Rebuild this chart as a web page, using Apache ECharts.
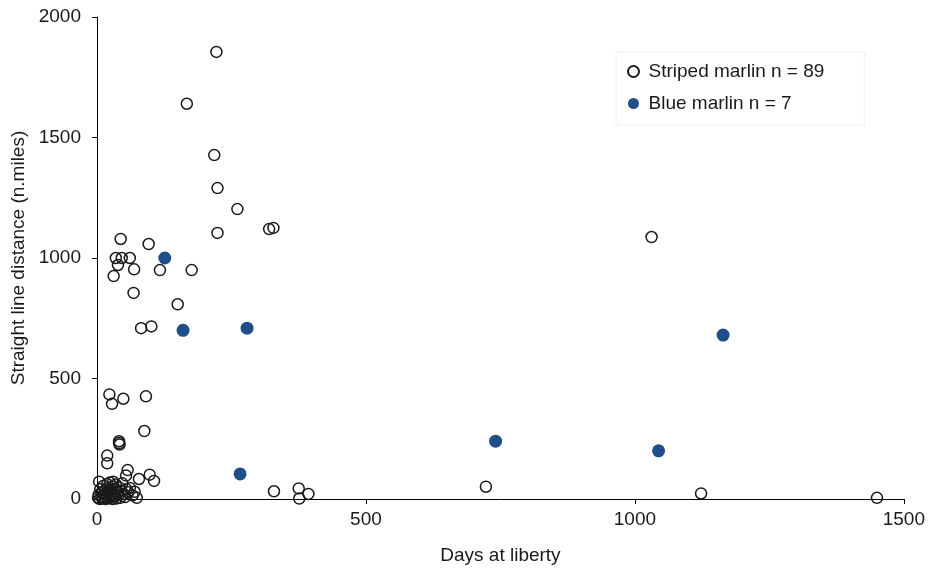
<!DOCTYPE html>
<html>
<head>
<meta charset="utf-8">
<script src="https://cdn.jsdelivr.net/npm/echarts@6/dist/echarts.min.js"></script>
<style>
  html, body { margin: 0; padding: 0; background: #ffffff; }
  #chart { width: 928px; height: 572px; }
</style>
</head>
<body>
<div id="chart"></div>
<script>
// Striped marlin recaptures: days at liberty and straight line distance (n.miles)
const stripedDays = [
  222, 167, 218, 224, 261, 224, 320, 328, 44, 96,
  35, 46, 61, 39, 69, 31, 117, 176, 68, 150,
  82, 101, 23, 28, 49, 91, 88, 41, 41, 42,
  19, 19, 57, 54, 78, 98, 106, 4, 329, 375,
  393, 376, 723, 1031, 1123, 1450,
  2, 3, 5, 6, 8, 9, 10, 12, 13, 14,
  15, 16, 18, 19, 20, 21, 22, 24, 25, 26,
  27, 28, 29, 30, 31, 33, 34, 35, 36, 38,
  40, 41, 43, 45, 47, 50, 52, 55, 58, 61,
  66, 70, 74
];
const stripedDistance = [
  1855, 1640, 1427, 1290, 1203, 1104, 1120, 1125, 1079, 1058,
  1000, 1000, 1000, 971, 953, 925, 950, 950, 855, 808,
  709, 716, 434, 395, 416, 426, 282, 240, 232, 226,
  180, 148, 120, 97, 83, 101, 75, 72, 32, 44,
  21, 2, 51, 1087, 23, 5,
  5, 18, 0, 40, 10, 28, 2, 55, 20, 5,
  35, 0, 12, 62, 45, 25, 3, 68, 15, 38,
  8, 52, 0, 72, 22, 10, 42, 60, 2, 28,
  16, 48, 5, 34, 65, 20, 8, 40, 28, 46,
  15, 30, 5
];

// Blue marlin recaptures
const blueDays = [126, 160, 279, 266, 741, 1044, 1164];
const blueDistance = [1000, 700, 709, 104, 240, 200, 680];

const seriesNames = ['Striped marlin n = 89', 'Blue marlin n = 7'];
const xTicks = { min: 0, max: 1500, interval: 500 };
const yTicks = { min: 0, max: 2000, interval: 500 };

const pairs = (xs, ys) => xs.map((x, i) => [x, ys[i]]);

const FONT = '"Liberation Sans", Arial, sans-serif';
const TEXT = '#1a1a1a';
const plain = (v) => String(v);

const chart = echarts.init(document.getElementById('chart'), null, { renderer: 'canvas' });

chart.setOption({
  backgroundColor: '#ffffff',
  animation: false,
  textStyle: { fontFamily: FONT, color: TEXT },
  grid: { left: 97, right: 22, top: 17, bottom: 73, containLabel: false },
  legend: {
    orient: 'vertical',
    left: 616,
    top: 52,
    padding: [10, 40, 12, 11],
    borderColor: '#f0f0f0',
    borderWidth: 1,
    itemWidth: 20,
    itemHeight: 11,
    itemGap: 13,
    textStyle: { fontFamily: FONT, fontSize: 19, color: TEXT },
    data: seriesNames
  },
  xAxis: {
    type: 'value',
    min: xTicks.min,
    max: xTicks.max,
    interval: xTicks.interval,
    name: 'Days at liberty',
    nameLocation: 'middle',
    nameGap: 47,
    nameTextStyle: { fontFamily: FONT, fontSize: 19, color: TEXT },
    axisLine: { show: true, onZero: false, lineStyle: { color: '#000000', width: 1 } },
    axisTick: { show: true, inside: false, length: 5, lineStyle: { color: '#000000' } },
    axisLabel: { margin: 11, fontFamily: FONT, fontSize: 19, color: TEXT, formatter: plain },
    splitLine: { show: false }
  },
  yAxis: {
    type: 'value',
    min: yTicks.min,
    max: yTicks.max,
    interval: yTicks.interval,
    name: 'Straight line distance (n.miles)',
    nameLocation: 'middle',
    nameGap: 69,
    nameTextStyle: { fontFamily: FONT, fontSize: 19, color: TEXT },
    axisLine: { show: true, onZero: false, lineStyle: { color: '#000000', width: 1 } },
    axisTick: { show: true, inside: false, length: 5, lineStyle: { color: '#000000' } },
    axisLabel: { margin: 16, fontFamily: FONT, fontSize: 19, color: TEXT, formatter: plain },
    splitLine: { show: false }
  },
  series: [
    {
      name: seriesNames[0],
      type: 'scatter',
      clip: false,
      symbol: 'circle',
      symbolSize: 11,
      itemStyle: { color: 'rgba(255,255,255,0)', borderColor: '#1a1a1a', borderWidth: 1.5, opacity: 1 },
      data: pairs(stripedDays, stripedDistance)
    },
    {
      name: seriesNames[1],
      type: 'scatter',
      clip: false,
      symbol: 'circle',
      symbolSize: 13,
      itemStyle: { color: '#1f4e8a', borderWidth: 0, opacity: 1 },
      data: pairs(blueDays, blueDistance)
    }
  ]
});
</script>
</body>
</html>
